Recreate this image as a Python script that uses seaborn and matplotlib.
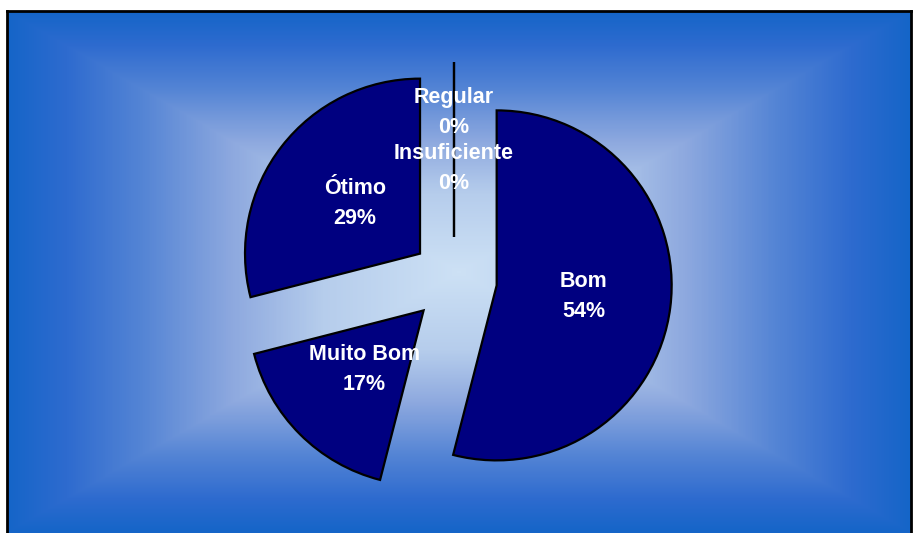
import numpy as np
import matplotlib
matplotlib.use("Agg")
import matplotlib.pyplot as plt
from matplotlib.colors import LinearSegmentedColormap
import seaborn as sns

# ---- data ----
categories = ["Bom", "Muito Bom", "Ótimo", "Regular", "Insuficiente"]
values = [54, 17, 29, 0, 0]
pct_labels = ["54%", "17%", "29%", "0%", "0%"]
label_dist = [0.50, 0.48, 0.47, 0.71, 0.39]

sns.set_style("white")
plt.rcParams["font.family"] = ["Liberation Sans", "DejaVu Sans"]

W, H = 915, 533
fig = plt.figure(figsize=(W / 100, H / 100), dpi=100)
fig.patch.set_facecolor("white")

# ---- background panel with rectangular "from centre" gradient ----
fl, fr, ft = 7, 911, 11
bg = fig.add_axes([fl / W, 0, (fr - fl) / W, (H - ft) / H])
nx, ny = 904, 522
u = np.abs(np.linspace(-1, 1, nx))[None, :]
v = np.abs(np.linspace(-1, 1, ny))[:, None]
t = np.maximum(u, v)
stops = sns.color_palette(["#cde1f5", "#b6cdec", "#8ea9df", "#5585d5", "#2e6bcf", "#1565c8"])
cmap = LinearSegmentedColormap.from_list(
    "bgc", list(zip([0.0, 0.3, 0.5, 0.7, 0.87, 1.0], stops)))
bg.imshow(t, cmap=cmap, aspect="auto", vmin=0, vmax=1, interpolation="bilinear")
bg.set_xticks([]); bg.set_yticks([])
for s in ["left", "top", "right"]:
    bg.spines[s].set_visible(True)
    bg.spines[s].set_color("black")
    bg.spines[s].set_linewidth(2)
bg.spines["bottom"].set_visible(False)

# ---- pie ----
R = 175.0
cx, cy = 454.0, 280.0
ax = fig.add_axes([0, 0, 1, 1])
ax.set_facecolor("none")
explode = [43 / R] * len(values)
wedges, _ = ax.pie(values, explode=explode, startangle=90, counterclock=False,
                   colors=["#000080"] * len(values),
                   wedgeprops=dict(edgecolor="black", linewidth=1.6),
                   radius=1.0)
ax.set_xlim(-cx / R, (W - cx) / R)
ax.set_ylim(-(H - cy) / R, cy / R)
ax.set_aspect("equal")
ax.axis("off")

for w, cat, pct, d in zip(wedges, categories, pct_labels, label_dist):
    th = np.deg2rad((w.theta1 + w.theta2) / 2)
    x0, y0 = w.center
    ax.text(x0 + d * np.cos(th), y0 + d * np.sin(th), f"{cat}\n{pct}",
            ha="center", va="center", color="white", fontsize=15.5,
            fontweight="bold", linespacing=1.55)

fig.savefig("out.png", dpi=100)
